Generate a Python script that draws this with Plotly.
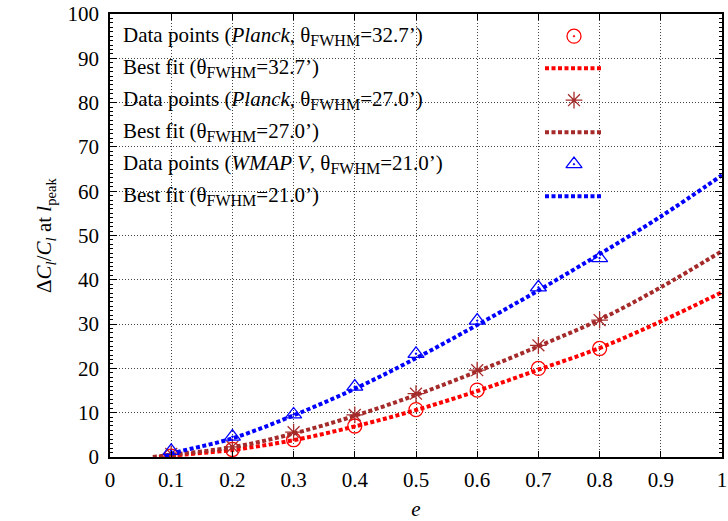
import plotly.graph_objects as go

# ---------------- data ----------------
e_pts = [0.1, 0.2, 0.3, 0.4, 0.5, 0.6, 0.7, 0.8]
planck327_pts = [0.2, 1.7, 3.9, 7.0, 10.7, 15.1, 20.0, 24.5]
planck270_pts = [0.7, 2.3, 5.6, 9.5, 14.3, 19.6, 25.2, 30.9]
wmap210_pts = [1.4, 4.6, 9.6, 15.9, 23.3, 30.8, 38.3, 44.9]

e_fit_red = [0.08, 0.1, 0.2, 0.3, 0.4, 0.5, 0.6, 0.7, 0.8, 0.9, 1.0]
fit327 = [0.0, 0.3, 1.6, 3.8, 6.9, 10.6, 14.9, 19.7, 24.6, 30.6, 37.2]
e_fit_brown = [0.07, 0.1, 0.2, 0.3, 0.4, 0.5, 0.6, 0.7, 0.8, 0.9, 1.0]
fit270 = [0.0, 0.5, 2.2, 5.3, 9.3, 14.0, 19.3, 25.0, 31.0, 38.3, 46.5]
e_fit_blue = [0.09, 0.1, 0.2, 0.3, 0.4, 0.5, 0.6, 0.7, 0.8, 0.9, 1.0]
fit210 = [0.0, 0.7, 4.2, 9.4, 15.4, 22.3, 29.8, 37.6, 45.8, 54.3, 63.6]

x_ticks = [0, 0.1, 0.2, 0.3, 0.4, 0.5, 0.6, 0.7, 0.8, 0.9, 1.0]
x_labels = ["0", "0.1", "0.2", "0.3", "0.4", "0.5", "0.6", "0.7", "0.8", "0.9", "1"]
y_ticks = [0, 10, 20, 30, 40, 50, 60, 70, 80, 90, 100]

SUB = '<sub><span style="font-size:16px">FWHM</span></sub>'
legend_texts = [
    "Data points (<i>Planck</i>, θ" + SUB + "=32.7’)",
    "Best fit (θ" + SUB + "=32.7’)",
    "Data points (<i>Planck</i>, θ" + SUB + "=27.0’)",
    "Best fit (θ" + SUB + "=27.0’)",
    "Data points (<i>WMAP V</i>, θ" + SUB + "=21.0’)",
    "Best fit (θ" + SUB + "=21.0’)",
]

RED = "#ff0000"
BROWN = "#a52a2a"
BLUE = "#0000ff"
FONT = "Liberation Serif"
FS = 21
DASH = "4px,2.5px"

fig = go.Figure()

series = [
    (planck327_pts, e_fit_red, fit327, RED, "circle-open-dot"),
    (planck270_pts, e_fit_brown, fit270, BROWN, "asterisk-open"),
    (wmap210_pts, e_fit_blue, fit210, BLUE, "triangle-up-open-dot"),
]

for pts, ef, fit, col, sym in series:
    fig.add_trace(go.Scatter(
        x=e_pts, y=pts, mode="markers",
        marker=dict(symbol=sym, size=14, color=col, line=dict(color=col, width=1.3)),
        showlegend=False, hoverinfo="skip"))
    fig.add_trace(go.Scatter(
        x=ef, y=fit, mode="lines", line=dict(color=col, width=4, dash=DASH, shape="spline"),
        showlegend=False, hoverinfo="skip"))

# ---------------- manual legend (gnuplot style, sample on the right) ----------------
PW = 612.0  # plot width in px
row0 = 0.950
step = 32 / 443
for i, (pts, ef, fit, col, sym) in enumerate(series):
    ym = row0 - (2 * i) * step
    yl = row0 - (2 * i + 1) * step
    fig.add_trace(go.Scatter(
        x=[464 / PW], y=[ym], xaxis="x2", yaxis="y2", mode="markers",
        marker=dict(symbol=sym, size=14, color=col, line=dict(color=col, width=1.3)),
        showlegend=False, hoverinfo="skip"))
    fig.add_trace(go.Scatter(
        x=[435 / PW, 493 / PW], y=[yl, yl], xaxis="x2", yaxis="y2", mode="lines",
        line=dict(color=col, width=4, dash=DASH),
        showlegend=False, hoverinfo="skip"))

for i, txt in enumerate(legend_texts):
    fig.add_annotation(
        x=11 / PW, y=row0 - i * step, xref="paper", yref="paper",
        text=txt, showarrow=False, xanchor="left", yanchor="middle",
        font=dict(family=FONT, size=FS, color="black"))

# white legend background hiding grid
fig.add_shape(type="rect", xref="paper", yref="paper", x0=0.002, x1=505 / PW, y0=0.5576, y1=0.997,
              fillcolor="white", line=dict(width=0), layer="between")

axis_common = dict(
    showline=True, linecolor="black", linewidth=1.5, mirror="ticks",
    ticks="inside", tickcolor="black", tickwidth=1.2,
    showgrid=True, gridcolor="#444444", gridwidth=1, griddash="1px,2px",
    zeroline=False, automargin=False,
    tickfont=dict(family=FONT, size=FS, color="black"),
)

fig.update_layout(
    width=728, height=521,
    margin=dict(l=110, r=6, t=14, b=64),
    paper_bgcolor="white", plot_bgcolor="white",
    font=dict(family=FONT, size=FS, color="black"),
    xaxis=dict(range=[0, 1], tickvals=x_ticks, ticktext=x_labels, ticklen=6,
               ticklabelstandoff=3, ticklabeloverflow="allow",
               title=dict(text="<i>e</i>", font=dict(family=FONT, size=FS), standoff=13),
               **axis_common),
    yaxis=dict(range=[0, 100], tickvals=y_ticks, ticklen=7, ticklabelstandoff=5,
               ticklabeloverflow="allow",
               minor=dict(dtick=1, ticklen=3.5, ticks="inside", tickcolor="black", showgrid=False),
               title=dict(text="Δ<i>C</i><sub><i>l</i></sub>/<i>C</i><sub><i>l</i></sub> at <i>l</i><sub>peak</sub>",
                          font=dict(family=FONT, size=FS), standoff=10),
               **axis_common),
    xaxis2=dict(range=[0, 1], overlaying="x", visible=False),
    yaxis2=dict(range=[0, 1], overlaying="y", visible=False),
)

fig.write_html("out.html")
